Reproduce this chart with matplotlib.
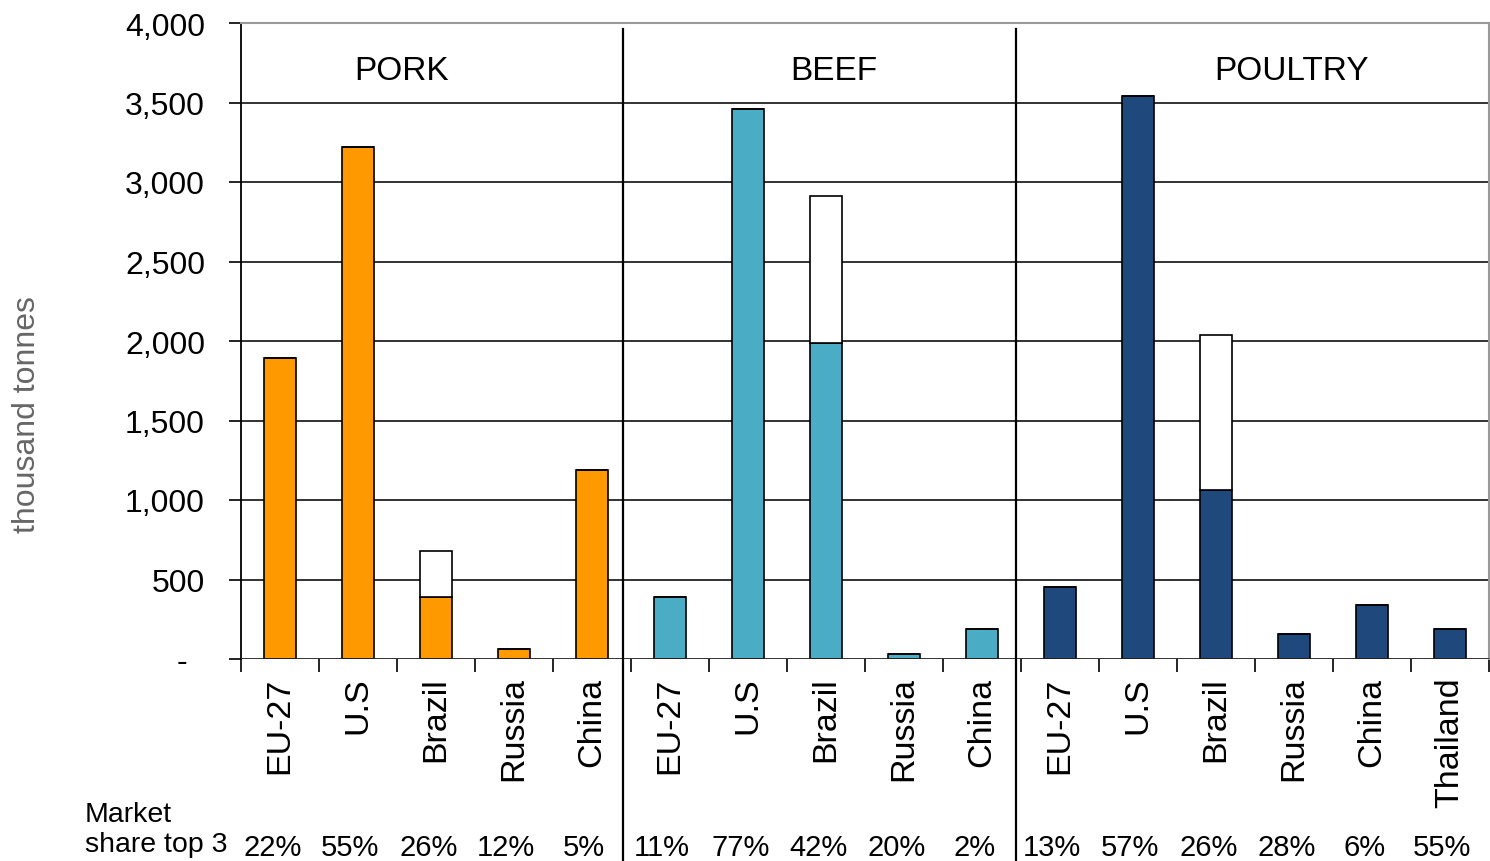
import matplotlib
matplotlib.use("Agg")
import matplotlib.pyplot as plt
import numpy as np

# ── data ─────────────────────────────────────────────────────────────────────
countries = ["EU-27", "U.S", "Brazil", "Russia", "China",
             "EU-27", "U.S", "Brazil", "Russia", "China",
             "EU-27", "U.S", "Brazil", "Russia", "China", "Thailand"]
meat = ["PORK"] * 5 + ["BEEF"] * 5 + ["POULTRY"] * 6
# exports (thousand tonnes); Brazil has a second, unfilled segment on top
exports = [1890, 3220, 390, 60, 1190,
           390, 3460, 1990, 30, 190,
           450, 3540, 1060, 160, 340, 190]
extra = [0, 0, 290, 0, 0,
         0, 0, 920, 0, 0,
         0, 0, 980, 0, 0, 0]
share_top3 = ["22%", "55%", "26%", "12%", "5%",
              "11%", "77%", "42%", "20%", "2%",
              "13%", "57%", "26%", "28%", "6%", "55%"]

colors = {"PORK": "#FF9900", "BEEF": "#4BACC6", "POULTRY": "#1F497D"}
# ─────────────────────────────────────────────────────────────────────────────

plt.rcParams["font.family"] = ["Liberation Sans", "DejaVu Sans"]

fig = plt.figure(figsize=(14.9, 8.62), dpi=100)
ax = fig.add_axes([241 / 1490, 202 / 862, 1248 / 1490, 636 / 862])

x = np.arange(len(countries))
bar_cols = [colors[m] for m in meat]
ax.bar(x, exports, width=0.40, color=bar_cols, edgecolor="black", linewidth=1.2, zorder=3)
ax.bar(x, extra, bottom=exports, width=0.40, color="white", edgecolor="black",
       linewidth=1.2, zorder=3)

ax.set_xlim(-0.5, len(countries) - 0.5)
ax.set_ylim(0, 4000)

# y axis
yt = np.arange(0, 4001, 500)
ax.set_yticks(yt)
ax.set_yticklabels(["-  " if v == 0 else f"{v:,}" for v in yt], fontsize=23)
ax.tick_params(axis="y", direction="out", length=9, width=1.2, pad=17)
for v in yt[1:-1]:
    ax.axhline(v, color="#222222", lw=1.3, zorder=1)
ax.axhline(0, color="#222222", lw=1.3, zorder=4)

# x axis: ticks on category boundaries, names as text under the bars
ax.set_xticks(np.arange(-0.5, len(countries)))
ax.set_xticklabels([])
ax.tick_params(axis="x", direction="out", length=9, width=1.2)
for xi, name in zip(x, countries):
    ax.text(xi, -110, name, rotation=90, ha="center", va="top", fontsize=24.5)

for s in ["top", "right"]:
    ax.spines[s].set_color("#999999")
    ax.spines[s].set_linewidth(1.5)
ax.spines["left"].set_linewidth(1.3)
ax.spines["bottom"].set_visible(False)

# section separators and titles
for xs in [4.397, 9.436]:
    ax.plot([xs, xs], [-1270, 3960], color="black", lw=1.6, clip_on=False, zorder=5)
for xt, title in [(1.56, "PORK"), (7.1, "BEEF"), (12.97, "POULTRY")]:
    ax.text(xt, 3700, title, ha="center", va="center", fontsize=24)

fig.text(27 / 1490, 1 - 415 / 862, "thousand tonnes", rotation=90, fontsize=23,
         color="#666666", ha="center", va="center")

# market share row
fig.text(85 / 1490, 1 - 815 / 862, "Market", fontsize=20.5, va="center", ha="left")
fig.text(85 / 1490, 1 - 845 / 862, "share top 3", fontsize=20.5, va="center", ha="left")
for xi, s in zip(x, share_top3):
    ax.text(xi - 0.1, -1180, s, ha="center", va="center", fontsize=21)

fig.savefig("out.png", dpi=100)
